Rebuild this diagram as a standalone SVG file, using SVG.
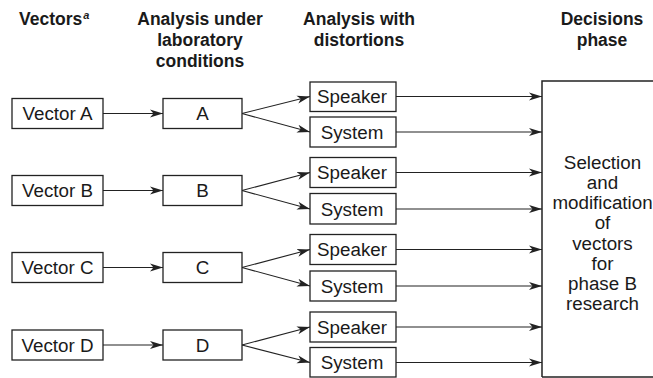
<svg xmlns="http://www.w3.org/2000/svg" width="653" height="378" viewBox="0 0 653 378">
<defs>
<style>
.box{fill:#fff;stroke:#222;stroke-width:1.3}
.t{font-family:"Liberation Sans",Arial,sans-serif;font-size:18.8px;fill:#1a1a1a;text-anchor:middle}
.h{font-family:"Liberation Sans",Arial,sans-serif;font-size:17.5px;font-weight:bold;fill:#1a1a1a;text-anchor:middle}
.c{fill:none;stroke:#222;stroke-width:1.1;marker-end:url(#ah)}
</style>
<marker id="ah" markerWidth="14" markerHeight="9" refX="13" refY="4.5" orient="auto" markerUnits="userSpaceOnUse">
<path d="M0,0.5 L13,4.5 L0,8.5 L3.5,4.5 z" fill="#222"/>
</marker>
</defs>
<rect width="653" height="378" fill="#fff"/>
<g id="headers">
<text class="h" x="19" y="25" style="text-anchor:start">Vectors<tspan font-size="11" font-style="italic" dx="1" dy="-6">a</tspan></text>
<text class="h" x="200" y="25">Analysis under</text>
<text class="h" x="200" y="46">laboratory</text>
<text class="h" x="200" y="67">conditions</text>
<text class="h" x="359" y="25">Analysis with</text>
<text class="h" x="359" y="46">distortions</text>
<text class="h" x="602" y="25">Decisions</text>
<text class="h" x="602" y="46">phase</text>
</g>
<g id="connectors">
<path class="c" d="M103,113.5 H163"/>
<path class="c" d="M103,190.5 H163"/>
<path class="c" d="M103,267.5 H163"/>
<path class="c" d="M103,345 H163"/>
<path class="c" d="M242,113.5 L310,96.5"/>
<path class="c" d="M242,113.5 L310,132"/>
<path class="c" d="M242,190.5 L310,172.5"/>
<path class="c" d="M242,190.5 L310,209"/>
<path class="c" d="M242,267.5 L310,249.5"/>
<path class="c" d="M242,267.5 L310,286"/>
<path class="c" d="M242,345 L310,327"/>
<path class="c" d="M242,345 L310,362.5"/>
<path class="c" d="M396,96.5 H542"/>
<path class="c" d="M396,132 H542"/>
<path class="c" d="M396,172.5 H542"/>
<path class="c" d="M396,209 H542"/>
<path class="c" d="M396,249.5 H542"/>
<path class="c" d="M396,286 H542"/>
<path class="c" d="M396,327 H542"/>
<path class="c" d="M396,362.5 H542"/>
</g>
<g id="vectorA"><rect class="box" x="12" y="98.5" width="91" height="30"/><text class="t" x="57.5" y="120.3">Vector A</text></g>
<g id="vectorB"><rect class="box" x="12" y="175.5" width="91" height="30"/><text class="t" x="57.5" y="197.3">Vector B</text></g>
<g id="vectorC"><rect class="box" x="12" y="252.5" width="91" height="30"/><text class="t" x="57.5" y="274.3">Vector C</text></g>
<g id="vectorD"><rect class="box" x="12" y="330" width="91" height="30"/><text class="t" x="57.5" y="351.8">Vector D</text></g>
<g id="labA"><rect class="box" x="163" y="98.5" width="79" height="30"/><text class="t" x="202.5" y="120.3">A</text></g>
<g id="labB"><rect class="box" x="163" y="175.5" width="79" height="30"/><text class="t" x="202.5" y="197.3">B</text></g>
<g id="labC"><rect class="box" x="163" y="252.5" width="79" height="30"/><text class="t" x="202.5" y="274.3">C</text></g>
<g id="labD"><rect class="box" x="163" y="330" width="79" height="30"/><text class="t" x="202.5" y="351.8">D</text></g>
<g id="speakerA"><rect class="box" x="310" y="82" width="86" height="29.5"/><text class="t" x="352" y="103.3">Speaker</text></g>
<g id="systemA"><rect class="box" x="310" y="117" width="86" height="30"/><text class="t" x="352" y="138.8">System</text></g>
<g id="speakerB"><rect class="box" x="310" y="157.5" width="86" height="30"/><text class="t" x="352" y="179.3">Speaker</text></g>
<g id="systemB"><rect class="box" x="310" y="193.5" width="86" height="30.5"/><text class="t" x="352" y="215.8">System</text></g>
<g id="speakerC"><rect class="box" x="310" y="234.5" width="86" height="30"/><text class="t" x="352" y="256.3">Speaker</text></g>
<g id="systemC"><rect class="box" x="310" y="271" width="86" height="30"/><text class="t" x="352" y="292.8">System</text></g>
<g id="speakerD"><rect class="box" x="310" y="312" width="86" height="30"/><text class="t" x="352" y="333.8">Speaker</text></g>
<g id="systemD"><rect class="box" x="310" y="347.5" width="86" height="29.5"/><text class="t" x="352" y="369.3">System</text></g>
<g id="decision">
<path d="M542,377 V81 H660" fill="none" stroke="#222" stroke-width="1.5"/>
<path d="M542,377 H660" fill="none" stroke="#222" stroke-width="1.3"/>
<text class="t" x="602.5" y="168.5">Selection</text>
<text class="t" x="602.5" y="188.8">and</text>
<text class="t" x="602.5" y="209">modification</text>
<text class="t" x="602.5" y="229.3">of</text>
<text class="t" x="602.5" y="249.5">vectors</text>
<text class="t" x="602.5" y="269.8">for</text>
<text class="t" x="602.5" y="290">phase B</text>
<text class="t" x="602.5" y="310.3">research</text>
</g>
</svg>
